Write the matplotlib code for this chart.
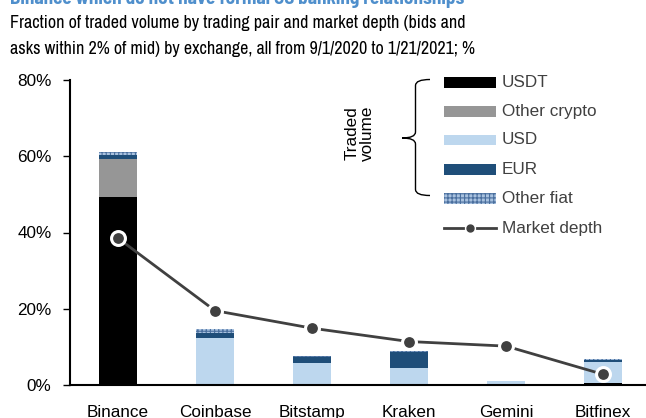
import matplotlib
matplotlib.use("Agg")
import matplotlib.pyplot as plt
from matplotlib.patches import Rectangle, PathPatch
from matplotlib.path import Path
from matplotlib.lines import Line2D
import numpy as np

plt.rcParams['font.family'] = ['Liberation Sans', 'DejaVu Sans']
NARROW = ['Archivo Narrow', 'Liberation Sans', 'DejaVu Sans']
TITLE_FONT = ['Barlow Semi Condensed', 'Liberation Sans', 'DejaVu Sans']

exchanges = ["Binance", "Coinbase", "Bitstamp", "Kraken", "Gemini", "Bitfinex"]
usdt = [49.4, 0.0, 0.0, 0.0, 0.0, 0.6]
other_crypto = [9.9, 0.0, 0.0, 0.0, 0.0, 0.0]
usd = [0.0, 12.2, 5.7, 4.4, 1.1, 5.5]
eur = [1.0, 1.5, 1.6, 4.2, 0.0, 0.5]
other_fiat = [0.9, 0.9, 0.3, 0.3, 0.0, 0.3]
market_depth = [38.5, 19.5, 14.9, 11.4, 10.2, 2.8]
yticks = [0, 20, 40, 60, 80]
ytick_labels = ["0%", "20%", "40%", "60%", "80%"]

title = "Binance which do not have formal US banking relationships"
subtitle_lines = ["Fraction of traded volume by trading pair and market depth (bids and",
                  "asks within 2% of mid) by exchange, all from 9/1/2020 to 1/21/2021; %"]

series_names = ["USDT", "Other crypto", "USD", "EUR", "Other fiat"]
colors = {"USDT": "#000000", "Other crypto": "#969696", "USD": "#BDD7EE",
          "EUR": "#1F4E79", "Other fiat": "#A9C2DF"}
HATCH_COLOR = "#4A6F9E"
plt.rcParams['hatch.color'] = HATCH_COLOR
plt.rcParams['hatch.linewidth'] = 0.8

W, H = 646, 418
fig = plt.figure(figsize=(W / 100, H / 100), dpi=100)

def fx(px):
    return px / W

def fy(py):
    return 1 - py / H

FS = 12.3
ax = fig.add_axes([fx(69.5), fy(385), fx(651.5) - fx(69.5), fy(80) - fy(385)])

x = np.arange(len(exchanges))
bottom = np.zeros(len(exchanges))
for name, vals in zip(series_names, [usdt, other_crypto, usd, eur, other_fiat]):
    vals = np.array(vals)
    if name == "Other fiat":
        ax.bar(x, vals, 0.4, bottom=bottom, color=colors[name], hatch='++++',
               edgecolor=HATCH_COLOR, linewidth=0, zorder=2)
    else:
        ax.bar(x, vals, 0.4, bottom=bottom, color=colors[name], linewidth=0, zorder=2)
    bottom += vals

ax.plot(x, market_depth, color="#404040", lw=2.0, marker='o', ms=10,
        mfc="#404040", mec="white", mew=2.2, zorder=5, clip_on=False)

ax.set_xlim(-0.5, len(exchanges) - 0.5)
ax.set_ylim(0, 80)
ax.set_yticks(yticks)
ax.set_yticklabels(ytick_labels)
ax.set_xticks(x)
ax.set_xticklabels(exchanges)
for s in ["top", "right"]:
    ax.spines[s].set_visible(False)
ax.spines["left"].set_linewidth(1.5)
ax.spines["bottom"].set_linewidth(1.5)
ax.tick_params(axis='y', direction='out', length=5, width=1, labelsize=FS, pad=8)
ax.tick_params(axis='x', length=0, labelsize=FS, pad=14.5)

# Titles, sized to span the measured widths
renderer = fig.canvas.get_renderer()

def fit(t, target_px):
    bb = t.get_window_extent(renderer=renderer)
    t.set_fontsize(t.get_fontsize() * target_px / bb.width)

t0 = fig.text(fx(10), fy(4), title, color="#4F8FCC", fontsize=14, fontweight='bold',
              family=TITLE_FONT, va='baseline', ha='left')
fit(t0, 453)
t1 = fig.text(fx(10), fy(28), subtitle_lines[0], fontsize=13, family=NARROW,
              va='baseline', ha='left')
fit(t1, 455)
t2 = fig.text(fx(10), fy(54), subtitle_lines[1], fontsize=t1.get_fontsize(), family=NARROW,
              va='baseline', ha='left')

# Legend (manual)
leg_y = [82.7, 111.7, 140.0, 169.3, 198.3]
ph = 10.5
for name, yy in zip(series_names, leg_y):
    if name == "Other fiat":
        r = Rectangle((fx(444), fy(yy + ph / 2)), fx(495.7) - fx(444), ph / H,
                      transform=fig.transFigure, facecolor=colors[name],
                      hatch='++++', edgecolor=HATCH_COLOR, linewidth=0)
    else:
        r = Rectangle((fx(444), fy(yy + ph / 2)), fx(495.7) - fx(444), ph / H,
                      transform=fig.transFigure, facecolor=colors[name], linewidth=0)
    fig.add_artist(r)
    fig.text(fx(501.5), fy(yy), name, fontsize=FS, va='center', ha='left', color="#404040")

yy = 228.3
fig.add_artist(Line2D([fx(444), fx(463)], [fy(yy), fy(yy)], color="#404040", lw=2.0,
                      transform=fig.transFigure))
fig.add_artist(Line2D([fx(477), fx(495.7)], [fy(yy), fy(yy)], color="#404040", lw=2.0,
                      transform=fig.transFigure))
fig.add_artist(Line2D([fx(470)], [fy(yy)], marker='o', ms=5, color="#404040",
                      transform=fig.transFigure))
fig.text(fx(501.5), fy(yy), "Market depth", fontsize=FS, va='center', ha='left', color="#404040")

# Brace
top, bot, mid = 79.5, 195.5, 138.0
xr, xs, xl = 430.0, 415.5, 402.0
verts = [(xr, top), (xs, top), (xs, top + 6),
         (xs, mid - 6),
         (xs, mid), (xl, mid),
         (xs, mid), (xs, mid + 6),
         (xs, bot - 6),
         (xs, bot), (xr, bot)]
codes = [Path.MOVETO, Path.CURVE3, Path.CURVE3,
         Path.LINETO,
         Path.CURVE3, Path.CURVE3,
         Path.CURVE3, Path.CURVE3,
         Path.LINETO,
         Path.CURVE3, Path.CURVE3]
verts_f = [(fx(a), fy(b)) for a, b in verts]
fig.add_artist(PathPatch(Path(verts_f, codes), transform=fig.transFigure,
                         facecolor='none', edgecolor='black', lw=1.0))
fig.text(fx(360), fy(133), "Traded\nvolume", rotation=90, fontsize=FS, va='center',
         ha='center', linespacing=1.0)

fig.savefig("out.png", dpi=100)
